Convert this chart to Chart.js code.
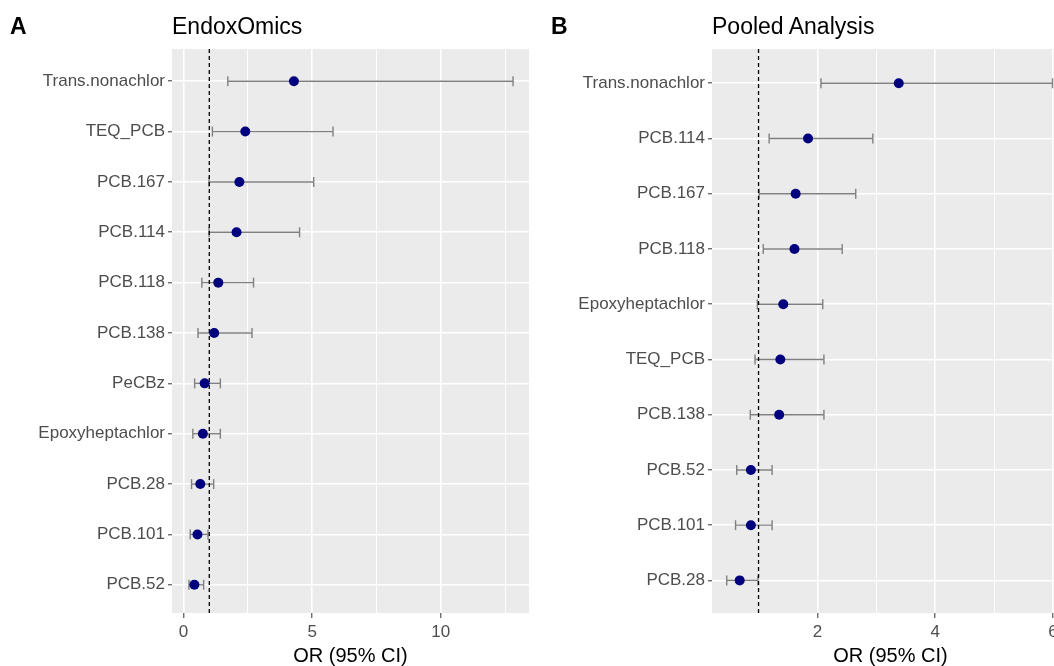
<!DOCTYPE html>
<html>
<head>
<meta charset="utf-8">
<script src="https://cdn.jsdelivr.net/npm/chart.js@4.4.1/dist/chart.umd.min.js"></script>
<style>
  html, body { margin: 0; padding: 0; background: #fff; overflow: hidden; width: 1054px; height: 666px; }
  .panel { position: absolute; top: 0; width: 540px; height: 680px; }
  .panel canvas { display: block; }
  .tag, .ttl { position: absolute; top: 15px; line-height: 23px; font-size: 23px; color: #000;
    font-family: "Liberation Sans", Arial, sans-serif; white-space: nowrap; }
  .tag { font-weight: bold; }
</style>
</head>
<body>
<div class="panel" style="left:0"><canvas id="chartA" width="540" height="680"></canvas></div>
<div class="panel" style="left:540px"><canvas id="chartB" width="540" height="680"></canvas></div>
<div class="tag" style="left:10px">A</div>
<div class="ttl" style="left:172px">EndoxOmics</div>
<div class="tag" style="left:551px">B</div>
<div class="ttl" style="left:712px">Pooled Analysis</div>
<script>
// panel A - EndoxOmics
const labelsA = ['Trans.nonachlor', 'TEQ_PCB', 'PCB.167', 'PCB.114', 'PCB.118', 'PCB.138', 'PeCBz', 'Epoxyheptachlor', 'PCB.28', 'PCB.101', 'PCB.52'];
const orA   = [4.29, 2.40, 2.17, 2.06, 1.35, 1.19, 0.82, 0.75, 0.65, 0.54, 0.42];
const lowA  = [1.72, 1.12, 0.99, 0.99, 0.71, 0.56, 0.43, 0.36, 0.31, 0.26, 0.21];
const highA = [12.81, 5.81, 5.06, 4.51, 2.72, 2.66, 1.43, 1.43, 1.17, 0.95, 0.78];
const majorA = [0, 5, 10];
const minorA = [2.5, 7.5, 12.5];

// panel B - pooled analysis
const labelsB = ['Trans.nonachlor', 'PCB.114', 'PCB.167', 'PCB.118', 'Epoxyheptachlor', 'TEQ_PCB', 'PCB.138', 'PCB.52', 'PCB.101', 'PCB.28'];
const orB   = [3.38, 1.84, 1.63, 1.61, 1.42, 1.37, 1.35, 0.87, 0.87, 0.68];
const lowB  = [2.06, 1.18, 1.01, 1.08, 0.98, 0.94, 0.86, 0.63, 0.61, 0.46];
const highB = [5.99, 2.94, 2.65, 2.42, 2.09, 2.11, 2.11, 1.23, 1.23, 0.99];
const majorB = [2, 4, 6];
const minorB = [1, 3, 5];

const refOR = 1;

Chart.defaults.font.family = '"Liberation Sans", Arial, sans-serif';

const panelBg = {
  id: 'panelBg',
  beforeDraw(chart) {
    const { ctx, chartArea: a } = chart;
    ctx.save();
    ctx.fillStyle = '#EBEBEB';
    ctx.fillRect(a.left, a.top, a.right - a.left, a.bottom - a.top);
    ctx.restore();
  }
};

function forest(id, labels, or, low, high, major, minor, xMin, xMax, padTop, padBottom) {
  const n = labels.length;
  const yMin = -padTop, yMax = n - 1 + padBottom;
  const datasets = [];
  datasets.push({
    data: or.map((v, i) => ({ x: v, y: i })),
    pointRadius: 5, pointBackgroundColor: '#00007F', pointBorderWidth: 0, order: 0
  });
  datasets.push({
    data: [{ x: refOR, y: yMin }, { x: refOR, y: yMax }],
    showLine: true, borderColor: '#000', borderWidth: 1.3, borderDash: [4, 3], pointRadius: 0, order: 1
  });
  low.forEach((lo, i) => {
    datasets.push({
      data: [{ x: lo, y: i }, { x: high[i], y: i }],
      showLine: true, borderColor: '#808080', borderWidth: 1.4,
      pointStyle: 'line', pointRotation: 90, pointRadius: 5,
      pointBorderColor: '#808080', pointBorderWidth: 1.4, order: 2
    });
  });

  const isMajor = v => major.includes(v);

  return new Chart(document.getElementById(id), {
    type: 'scatter',
    data: { datasets },
    plugins: [panelBg],
    options: {
      responsive: false,
      animation: false,
      layout: { padding: { top: 49, right: 11, left: 0, bottom: 0 } },
      plugins: { legend: { display: false }, tooltip: { enabled: false } },
      scales: {
        x: {
          type: 'linear', min: xMin, max: xMax,
          afterBuildTicks: s => { s.ticks = [...major, ...minor].sort((a, b) => a - b).map(v => ({ value: v })); },
          afterFit: s => { s.height = 67; },
          border: { display: false },
          grid: {
            color: '#FFFFFF',
            lineWidth: c => isMajor(c.tick.value) ? 1.6 : 0.9,
            tickColor: c => isMajor(c.tick.value) ? '#333333' : 'rgba(0,0,0,0)',
            tickLength: 5, tickWidth: 1
          },
          ticks: {
            autoSkip: false, maxRotation: 0, padding: 4,
            color: '#4D4D4D', font: { size: 17 },
            callback: v => isMajor(v) ? String(v) : ''
          },
          title: { display: true, text: 'OR (95% CI)', color: '#000', font: { size: 20 }, padding: { top: 0, bottom: 12 } }
        },
        y: {
          type: 'linear', reverse: true, min: yMin, max: yMax,
          afterBuildTicks: s => { s.ticks = labels.map((_, i) => ({ value: i })); },
          afterFit: s => { s.width = 172; },
          border: { display: false },
          grid: { color: '#FFFFFF', lineWidth: 1.6, tickColor: '#333333', tickLength: 4, tickWidth: 1 },
          ticks: {
            autoSkip: false, padding: 3,
            color: '#4D4D4D', font: { size: 17 },
            callback: v => labels[v]
          }
        }
      }
    }
  });
}

forest('chartA', labelsA, orA, lowA, highA, majorA, minorA, -0.45, 13.43, 0.64, 0.56);
forest('chartB', labelsB, orB, lowB, highB, majorB, minorB, 0.21, 6.27, 0.62, 0.59);
</script>
</body>
</html>
